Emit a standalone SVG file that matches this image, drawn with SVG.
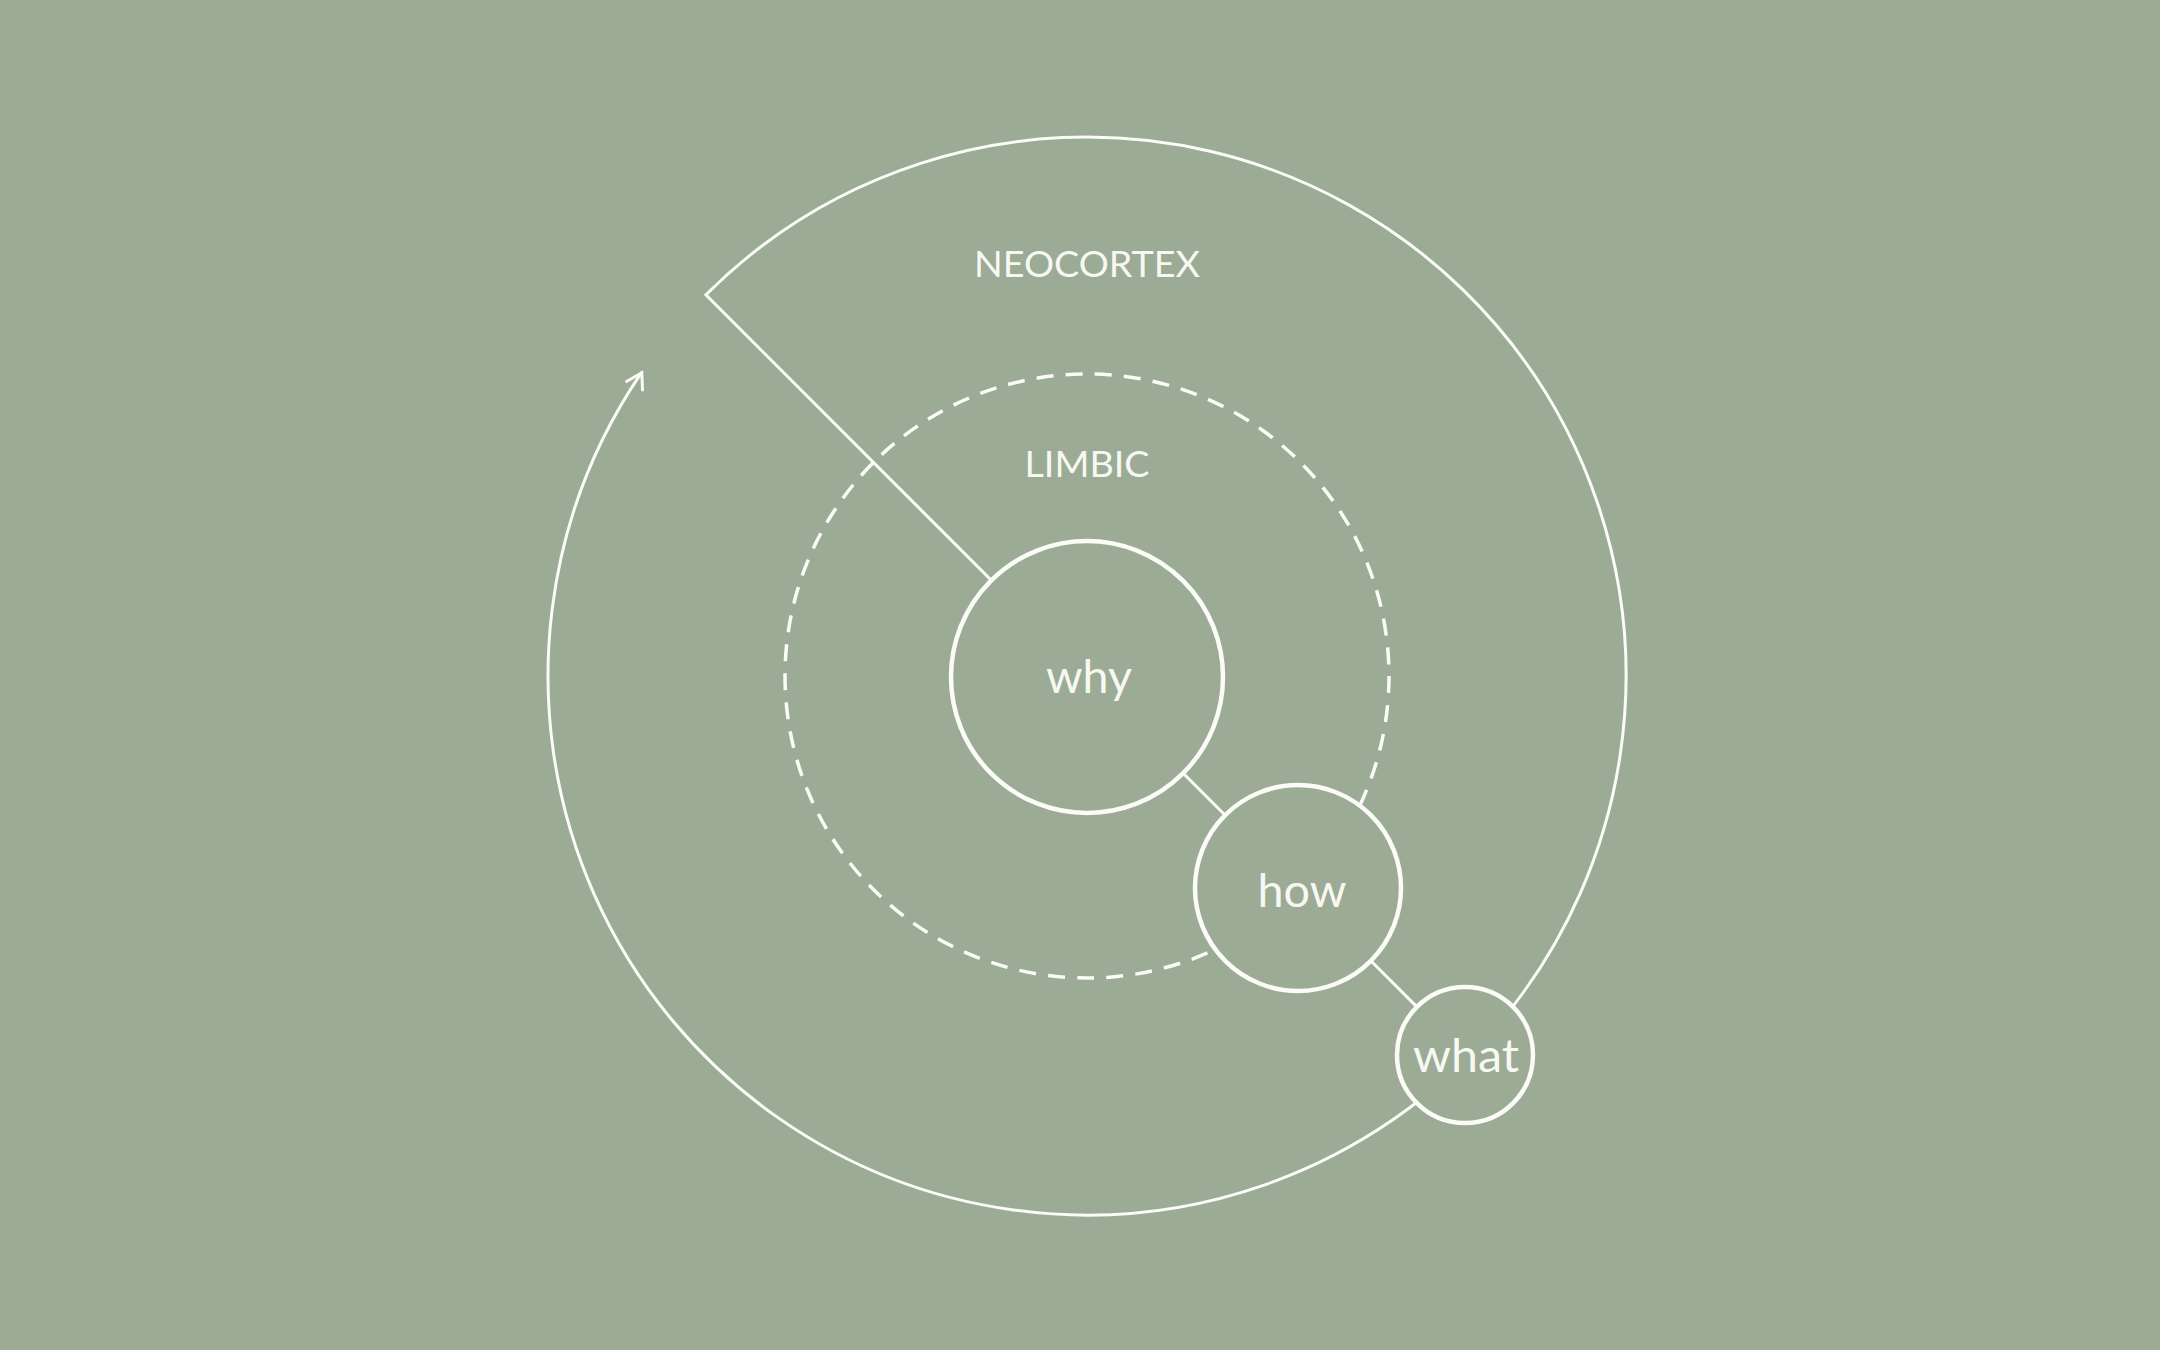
<svg xmlns="http://www.w3.org/2000/svg" width="2160" height="1350" viewBox="0 0 2160 1350">
  <defs>
    <style>
      .bg { fill: #9bab96; }
      .line { fill: none; stroke: #fbfbf7; stroke-width: 3; stroke-linecap: round; stroke-linejoin: miter; }
      .dash { fill: none; stroke: #fbfbf7; stroke-width: 3.5; stroke-dasharray: 17 12.19; }
      .node { fill: #9bab96; stroke: #fbfbf7; stroke-width: 4.5; }
      .label { fill: #f8f8f3; font-family: Lato, "Liberation Sans", sans-serif; font-weight: 400; text-anchor: middle; }
      .region { font-size: 37px; }
      .word { font-size: 46px; }
    </style>
  </defs>

  <rect class="bg" x="0" y="0" width="2160" height="1350"/>

  <g id="limbic-ring">
    <circle class="dash" cx="1087" cy="676" r="302"/>
  </g>

  <g id="connectors">
    <path class="line" d="M 991.8 580.8 L 705.87 294.87 A 539 539 0 1 1 641.5 372.6"/>
    <path class="line" d="M 626.5 381.5 L 641.8 372.8 L 642.5 390"/>
    <line class="line" x1="1183.2" y1="773.2" x2="1225.2" y2="815.2"/>
    <line class="line" x1="1370.8" y1="960.8" x2="1416.9" y2="1006.9"/>
  </g>

  <g id="neocortex-label">
    <text class="label region" x="1087" y="277" textLength="226" lengthAdjust="spacingAndGlyphs">NEOCORTEX</text>
  </g>
  <g id="limbic-label">
    <text class="label region" x="1087" y="477" textLength="125" lengthAdjust="spacingAndGlyphs">LIMBIC</text>
  </g>

  <g id="why">
    <circle class="node" cx="1087" cy="677" r="136"/>
    <text class="label word" x="1089" y="693" textLength="86" lengthAdjust="spacingAndGlyphs">why</text>
  </g>
  <g id="how">
    <circle class="node" cx="1298" cy="888" r="103"/>
    <text class="label word" x="1302" y="907" textLength="89" lengthAdjust="spacingAndGlyphs">how</text>
  </g>
  <g id="what">
    <circle class="node" cx="1465" cy="1055" r="68"/>
    <text class="label word" x="1466" y="1072" textLength="106" lengthAdjust="spacingAndGlyphs">what</text>
  </g>
</svg>
